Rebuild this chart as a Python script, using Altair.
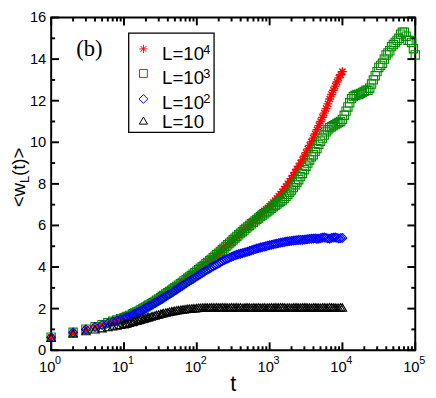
import altair as alt
import pandas as pd

# ---- data ----
t_grid = [1, 2, 3, 4, 5, 6, 7, 8, 9, 10,
          11, 13, 14, 16, 18, 20, 22, 25, 28, 32, 35, 40, 45, 50, 56, 63, 71, 79, 89, 100,
          112, 126, 141, 158, 178, 200, 224, 251, 282, 316, 355, 398, 447, 501, 562, 631, 708, 794, 891, 1000,
          1122, 1259, 1413, 1585, 1778, 1995, 2239, 2512, 2818, 3162, 3548, 3981, 4467, 5012, 5623, 6310, 7079, 7943, 8913, 10000,
          11220, 12589, 14125, 15849, 17783, 19953, 22387, 25119, 28184, 31623, 35481, 39811, 44668, 50119, 56234, 63096, 70795, 79433, 89125, 100000]

t_mid = [10.6, 11.9, 13.3, 15.0, 16.8, 18.8, 21.1, 23.7, 26.6, 29.9, 33.5, 37.6, 42.2, 47.3, 53.1, 59.6, 66.8, 75.0, 84.1, 94.4,
         106, 119, 133, 150, 168, 188, 211, 237, 266, 299, 335, 376, 422, 473, 531, 596, 668, 750, 841, 944,
         1059, 1189, 1334, 1496, 1679, 1884, 2113, 2371, 2661, 2985, 3350, 3758, 4217, 4732, 5309, 5957, 6683, 7499, 8414, 9441,
         10593, 11885, 13335, 14962, 16788, 18836, 21135, 23714, 26607, 29854, 33497, 37584, 42170, 47315, 53088, 59566, 66834, 74989, 84140, 94406]

w_L1e4 = [0.62, 0.85, 1.0, 1.12, 1.22, 1.31, 1.38, 1.44, 1.5, 1.55,
          1.61, 1.71, 1.78, 1.87, 1.97, 2.07, 2.17, 2.28, 2.39, 2.51, 2.62, 2.75, 2.87, 2.99, 3.12, 3.25, 3.38, 3.51, 3.65, 3.79,
          3.93, 4.07, 4.21, 4.36, 4.51, 4.67, 4.83, 4.99, 5.15, 5.31, 5.47, 5.63, 5.79, 5.95, 6.11, 6.27, 6.44, 6.6, 6.77, 6.93,
          7.1, 7.3, 7.5, 7.75, 8.0, 8.25, 8.55, 8.85, 9.15, 9.5, 9.85, 10.2, 10.6, 11.0, 11.4, 11.85, 12.3, 12.7, 13.1, 13.4]
w_L1e4_mid = [1.58, 1.66, 1.75, 1.83, 1.92, 2.02, 2.12, 2.23, 2.34, 2.45, 2.57, 2.69, 2.81, 2.93, 3.06, 3.19, 3.32, 3.45, 3.58, 3.72,
              3.86, 4.0, 4.14, 4.29, 4.44, 4.59, 4.75, 4.91, 5.07, 5.23, 5.39, 5.55, 5.71, 5.87, 6.03, 6.19, 6.36, 6.52, 6.69, 6.85,
              7.02, 7.2, 7.4, 7.62, 7.87, 8.12, 8.4, 8.7, 9.0, 9.33, 9.68, 10.02, 10.4, 10.8, 11.2, 11.62, 12.08, 12.5, 12.9, 13.25]

w_L1e3 = [0.63, 0.86, 1.01, 1.13, 1.23, 1.32, 1.39, 1.45, 1.51, 1.56,
          1.62, 1.72, 1.79, 1.88, 1.98, 2.08, 2.18, 2.29, 2.4, 2.52, 2.63, 2.76, 2.88, 3.0, 3.13, 3.26, 3.39, 3.52, 3.66, 3.8,
          3.94, 4.08, 4.22, 4.37, 4.52, 4.67, 4.83, 4.99, 5.15, 5.31, 5.47, 5.63, 5.78, 5.93, 6.08, 6.22, 6.36, 6.5, 6.62, 6.75,
          6.9, 7.03, 7.15, 7.3, 7.5, 7.7, 7.95, 8.2, 8.5, 8.85, 9.15, 9.4, 9.7, 10.05, 10.35, 10.6, 10.75, 10.85, 10.95, 11.1,
          11.5, 11.9, 12.2, 12.3, 12.35, 12.45, 12.5, 12.8, 13.2, 13.6, 13.8, 14.2, 14.4, 14.7, 14.9, 15.2, 15.3, 14.9, 14.8, 14.2]
w_L1e3_mid = [1.59, 1.67, 1.76, 1.84, 1.93, 2.03, 2.13, 2.24, 2.35, 2.46, 2.58, 2.7, 2.82, 2.94, 3.07, 3.2, 3.33, 3.46, 3.59, 3.73,
              3.87, 4.01, 4.15, 4.3, 4.45, 4.6, 4.75, 4.91, 5.07, 5.23, 5.39, 5.55, 5.7, 5.86, 6.0, 6.15, 6.29, 6.43, 6.56, 6.69,
              6.83, 6.97, 7.1, 7.22, 7.4, 7.6, 7.82, 8.08, 8.35, 8.68, 9.0, 9.3, 9.55, 9.9, 10.2, 10.5, 10.7, 10.8, 10.9, 11.0,
              11.3, 11.7, 12.1, 12.25, 12.3, 12.4, 12.5, 12.6, 13.0, 13.4, 13.7, 14.0, 14.3, 14.6, 14.8, 15.0, 15.3, 15.1, 14.9, 14.5]

w_L1e2 = [0.62, 0.85, 1.0, 1.12, 1.22, 1.3, 1.37, 1.43, 1.48, 1.53,
          1.58, 1.67, 1.74, 1.83, 1.93, 2.03, 2.12, 2.22, 2.32, 2.43, 2.53, 2.65, 2.76, 2.87, 2.98, 3.1, 3.21, 3.32, 3.43, 3.55,
          3.66, 3.77, 3.88, 3.98, 4.08, 4.18, 4.28, 4.37, 4.45, 4.52, 4.59, 4.64, 4.69, 4.74, 4.8, 4.86, 4.91, 4.96, 5.0, 5.05,
          5.09, 5.13, 5.17, 5.2, 5.23, 5.26, 5.28, 5.3, 5.31, 5.33, 5.35, 5.37, 5.36, 5.39, 5.42, 5.38, 5.4, 5.42, 5.38, 5.4]
w_L1e2_mid = [1.56, 1.63, 1.71, 1.79, 1.88, 1.98, 2.08, 2.17, 2.27, 2.38, 2.48, 2.59, 2.7, 2.81, 2.92, 3.04, 3.15, 3.27, 3.38, 3.49,
              3.6, 3.72, 3.83, 3.93, 4.03, 4.13, 4.23, 4.33, 4.41, 4.49, 4.56, 4.62, 4.67, 4.72, 4.77, 4.83, 4.89, 4.94, 4.98, 5.03,
              5.07, 5.11, 5.15, 5.19, 5.22, 5.25, 5.27, 5.29, 5.31, 5.32, 5.34, 5.36, 5.38, 5.37, 5.41, 5.4, 5.37, 5.41, 5.4, 5.39]

w_L10 = [0.6, 0.8, 0.92, 1.0, 1.06, 1.11, 1.15, 1.19, 1.22, 1.25,
         1.29, 1.35, 1.4, 1.45, 1.5, 1.55, 1.6, 1.65, 1.7, 1.75, 1.79, 1.83, 1.87, 1.9, 1.93, 1.96, 1.98, 2.0, 2.02, 2.03,
         2.04, 2.05, 2.05, 2.06, 2.05, 2.06, 2.07, 2.06, 2.05, 2.06, 2.07, 2.06, 2.05, 2.06, 2.04, 2.05, 2.06, 2.05, 2.04, 2.05,
         2.05, 2.06, 2.07, 2.06, 2.05, 2.04, 2.06, 2.05, 2.06, 2.07, 2.05, 2.06, 2.05, 2.04, 2.06, 2.05, 2.06, 2.05, 2.04, 2.05]
w_L10_mid = [1.27, 1.32, 1.37, 1.42, 1.47, 1.52, 1.57, 1.62, 1.67, 1.72, 1.77, 1.81, 1.85, 1.88, 1.92, 1.94, 1.97, 1.99, 2.01, 2.02,
             2.04, 2.05, 2.06, 2.05, 2.06, 2.07, 2.05, 2.06, 2.05, 2.07, 2.06, 2.05, 2.04, 2.06, 2.05, 2.06, 2.05, 2.04, 2.06, 2.05,
             2.06, 2.07, 2.05, 2.06, 2.04, 2.05, 2.06, 2.07, 2.05, 2.06, 2.05, 2.04, 2.06, 2.05, 2.06, 2.05, 2.07, 2.05, 2.04, 2.06]

x_major = [1, 10, 100, 1000, 10000, 100000]
x_exponents = ["0", "1", "2", "3", "4", "5"]
x_minor = [2, 3, 4, 5, 6, 7, 8, 9,
           20, 30, 40, 50, 60, 70, 80, 90,
           200, 300, 400, 500, 600, 700, 800, 900,
           2000, 3000, 4000, 5000, 6000, 7000, 8000, 9000,
           20000, 30000, 40000, 50000, 60000, 70000, 80000, 90000]
y_major = [0, 2, 4, 6, 8, 10, 12, 14, 16]
y_minor = [1, 3, 5, 7, 9, 11, 13, 15]

legend_base = ["L=10", "L=10", "L=10", "L=10"]
legend_sup = ["4", "3", "2", ""]

# ---- chart ----
W, H = 371, 339
xscale = alt.Scale(type="log", domain=[1, 100000])
yscale = alt.Scale(domain=[0, 16])
SANS = "Liberation Sans"
ASTERISK = "M0,-1L0,1M-1,0L1,0M-0.7,-0.7L0.7,0.7M-0.7,0.7L0.7,-0.7"
RED, GREEN, BLUE, BLACK = "#ff0000", "#008b00", "#0000ff", "#000000"


def series(vals, vals_mid, shape, color, size, sw):
    df = pd.concat([
        pd.DataFrame({"t": t_grid[:len(vals)], "w": vals}),
        pd.DataFrame({"t": t_mid[:len(vals_mid)], "w": vals_mid}),
    ]).sort_values("t")
    return alt.Chart(df).mark_point(shape=shape, filled=False, color=color, size=size,
                                    strokeWidth=sw, opacity=1).encode(
        x=alt.X("t:Q", scale=xscale, axis=None),
        y=alt.Y("w:Q", scale=yscale, axis=None))


layers = [
    series(w_L1e4, w_L1e4_mid, ASTERISK, RED, 80, 1.4),
    series(w_L1e3, w_L1e3_mid, "square", GREEN, 72, 1.1),
    series(w_L1e2, w_L1e2_mid, "diamond", BLUE, 80, 1.1),
    series(w_L10, w_L10_mid, "triangle-up", BLACK, 75, 1.1),
]


def xticks(vals, length):
    df = pd.DataFrame({"t": vals})
    base = alt.Chart(df).mark_rule(color="black", strokeWidth=2)
    enc = dict(x=alt.X("t:Q", scale=xscale, axis=None))
    return [base.encode(y=alt.value(H), y2=alt.value(H - length), **enc),
            base.encode(y=alt.value(0), y2=alt.value(length), **enc)]


def yticks(vals, length):
    df = pd.DataFrame({"v": vals})
    base = alt.Chart(df).mark_rule(color="black", strokeWidth=2)
    enc = dict(y=alt.Y("v:Q", scale=yscale, axis=None))
    return [base.encode(x=alt.value(0), x2=alt.value(length), **enc),
            base.encode(x=alt.value(W), x2=alt.value(W - length), **enc)]


layers += xticks(x_major, 8) + xticks(x_minor, 4) + yticks(y_major, 8) + yticks(y_minor, 4)

# x tick labels 10^n
dec = pd.DataFrame({"t": x_major, "e": x_exponents})
layers.append(alt.Chart(dec).mark_text(text="10", font=SANS, fontSize=15, align="center",
                                       baseline="alphabetic", dx=-4).encode(
    x=alt.X("t:Q", scale=xscale, axis=None), y=alt.value(H + 22)))
layers.append(alt.Chart(dec).mark_text(font=SANS, fontSize=11, align="left",
                                       baseline="alphabetic", dx=4).encode(
    x=alt.X("t:Q", scale=xscale, axis=None), y=alt.value(H + 14), text="e:N"))

# y tick labels
ylab = pd.DataFrame({"v": y_major})
layers.append(alt.Chart(ylab).mark_text(font=SANS, fontSize=15, align="right",
                                        baseline="middle").encode(
    y=alt.Y("v:Q", scale=yscale, axis=None), x=alt.value(-5), text="v:Q"))

one = pd.DataFrame({"a": [0]})

# axis titles
layers.append(alt.Chart(one).mark_text(text="t", font=SANS, fontSize=22, align="center",
                                       baseline="alphabetic").encode(
    x=alt.value(W / 2), y=alt.value(H + 42)))
layers.append(alt.Chart(one).mark_text(text="<w", font=SANS, fontSize=19, angle=270,
                                       align="center", baseline="alphabetic").encode(
    x=alt.value(-27), y=alt.value(181)))
layers.append(alt.Chart(one).mark_text(text="L", font=SANS, fontSize=13, angle=270,
                                       align="center", baseline="alphabetic").encode(
    x=alt.value(-22.5), y=alt.value(165)))
layers.append(alt.Chart(one).mark_text(text="(t)>", font=SANS, fontSize=19, angle=270,
                                       align="center", baseline="alphabetic").encode(
    x=alt.value(-27), y=alt.value(147)))

# panel label
layers.append(alt.Chart(one).mark_text(text="(b)", font="Liberation Serif", fontSize=23,
                                       align="center", baseline="alphabetic").encode(
    x=alt.value(39), y=alt.value(39)))

# legend box
layers.append(alt.Chart(one).mark_rect(fill="white", stroke="black", strokeWidth=1.3).encode(
    x=alt.value(79), x2=alt.value(166), y=alt.value(16), y2=alt.value(117)))

sym_y = [32, 57, 83, 105]
txt_y = [43, 68, 93, 113]
shapes = [(ASTERISK, RED, 70), ("square", GREEN, 64), ("diamond", BLUE, 80), ("triangle-up", BLACK, 70)]
for i, (shp, col, sz) in enumerate(shapes):
    layers.append(alt.Chart(one).mark_point(shape=shp, filled=False, color=col, size=sz,
                                            strokeWidth=1, opacity=1).encode(
        x=alt.value(94), y=alt.value(sym_y[i])))
    layers.append(alt.Chart(one).mark_text(text=legend_base[i], font=SANS, fontSize=19,
                                           align="left", baseline="alphabetic").encode(
        x=alt.value(113), y=alt.value(txt_y[i])))
    if legend_sup[i]:
        layers.append(alt.Chart(one).mark_text(text=legend_sup[i], font=SANS, fontSize=13,
                                               align="left", baseline="alphabetic").encode(
            x=alt.value(155), y=alt.value(txt_y[i] - 6)))

chart = alt.layer(*layers).properties(
    width=W, height=H, autosize="none",
    padding={"left": 44, "top": 6, "right": 13, "bottom": 45},
).configure_view(stroke="black", strokeWidth=2)

chart.save("out.html", embed_options={"renderer": "svg", "actions": False})
